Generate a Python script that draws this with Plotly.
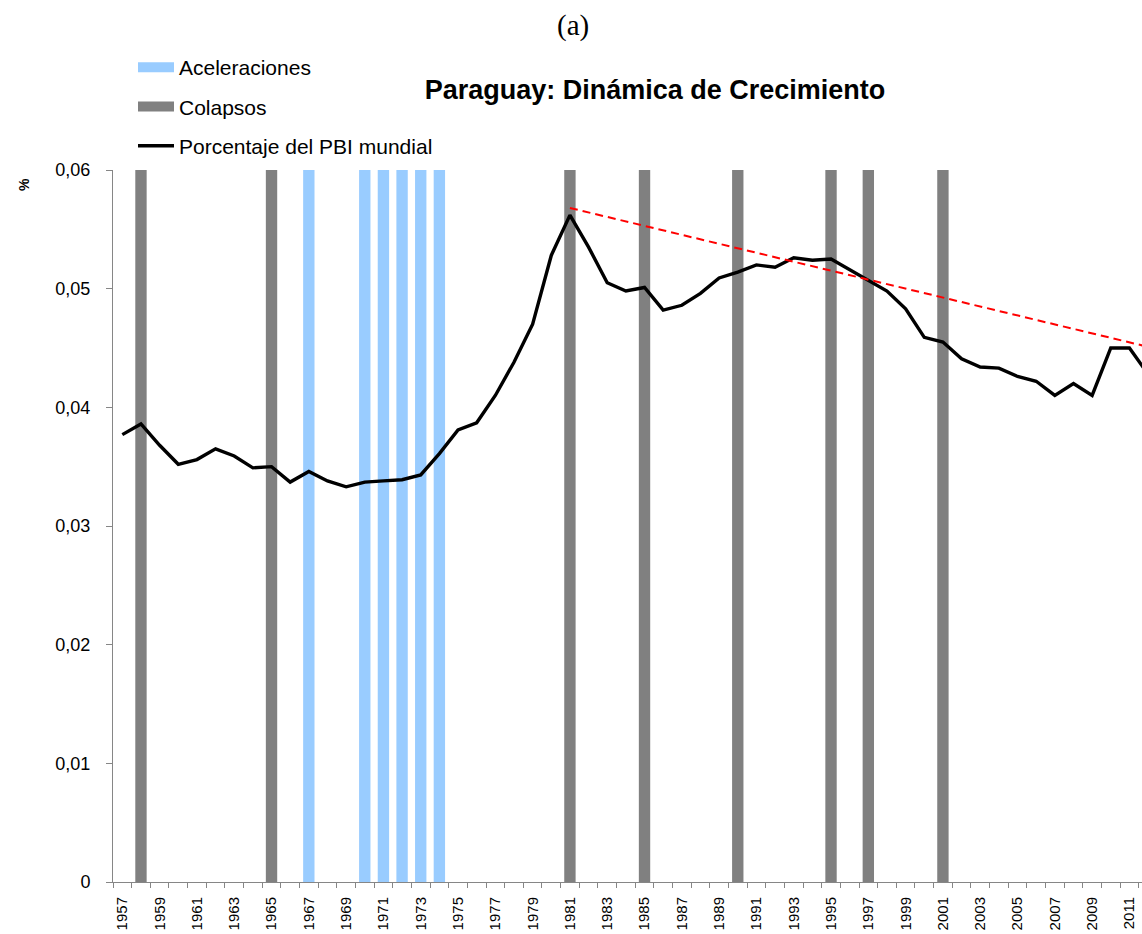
import plotly.graph_objects as go

# ---------------- data ----------------
years = list(range(1957, 2013))
share_world_gdp = [
    0.0377, 0.0386, 0.0368, 0.0352, 0.0356, 0.0365, 0.0359, 0.0349, 0.0350, 0.0337,
    0.0346, 0.0338, 0.0333, 0.0337, 0.0338, 0.0339, 0.0343, 0.0361, 0.0381, 0.0387,
    0.0410, 0.0438, 0.0470, 0.0528, 0.0562, 0.0535, 0.0505, 0.0498, 0.0501, 0.0482,
    0.0486, 0.0496, 0.0509, 0.0514, 0.0520, 0.0518, 0.0526, 0.0524, 0.0525, 0.0516,
    0.0507, 0.0498, 0.0483, 0.0459, 0.0455, 0.0441, 0.0434, 0.0433, 0.0426, 0.0422,
    0.0410, 0.0420, 0.0410, 0.0450, 0.0450, 0.0428,
]
accel_years = [1967, 1970, 1971, 1972, 1973, 1974]
accel_values = [0.06, 0.06, 0.06, 0.06, 0.06, 0.06]
collapse_years = [1958, 1965, 1981, 1985, 1990, 1995, 1997, 2001]
collapse_values = [0.06, 0.06, 0.06, 0.06, 0.06, 0.06, 0.06, 0.06]
trend_years = [1981, 2012]
trend_values = [0.0568, 0.0451]
label_years = [y for y in years if y % 2 == 1]
y_ticks = [0, 0.01, 0.02, 0.03, 0.04, 0.05, 0.06]

ACCEL_COLOR = "#99CCFF"
COLLAPSE_COLOR = "#808080"

W, H = 1142, 934
L, R, T, B = 113, 0, 170, 52
plot_w = W - L - R
plot_h = H - T - B
cat_px = 18.65

x_range = [years[0] - 0.5, years[0] - 0.5 + plot_w / cat_px]
boundaries = [y - 0.5 for y in years] + [years[-1] + 0.5]

def px_x(px):
    return (px - L) / plot_w

def px_y(py):
    return (H - B - py) / plot_h

fig = go.Figure()
fig.add_trace(go.Bar(x=accel_years, y=accel_values, name="Aceleraciones",
                     marker=dict(color=ACCEL_COLOR, line=dict(width=0)),
                     showlegend=False, hoverinfo="skip"))
fig.add_trace(go.Bar(x=collapse_years, y=collapse_values, name="Colapsos",
                     marker=dict(color=COLLAPSE_COLOR, line=dict(width=0)),
                     showlegend=False, hoverinfo="skip"))
fig.add_trace(go.Scatter(x=years, y=share_world_gdp, mode="lines",
                         name="Porcentaje del PBI mundial",
                         line=dict(color="black", width=3.4),
                         showlegend=False))
fig.add_trace(go.Scatter(x=trend_years, y=trend_values, mode="lines",
                         line=dict(color="#FF0000", width=2, dash="8px,5px"),
                         showlegend=False, hoverinfo="skip"))

# legend entries (wide boxes like the reference)
fig.add_trace(go.Scatter(x=[None], y=[None], mode="lines", name="Aceleraciones",
                         line=dict(color=ACCEL_COLOR, width=16), legendgroup="a"))
fig.add_trace(go.Scatter(x=[None], y=[None], mode="lines", name="Colapsos",
                         line=dict(color=COLLAPSE_COLOR, width=16), legendgroup="b"))
fig.add_trace(go.Scatter(x=[None], y=[None], mode="lines",
                         name="Porcentaje del PBI mundial",
                         line=dict(color="black", width=3.4), legendgroup="c"))

fig.update_layout(
    width=W, height=H,
    margin=dict(l=L, r=R, t=T, b=B, pad=0),
    paper_bgcolor="white", plot_bgcolor="white",
    separators=",.",
    barmode="group", bargap=0.39, bargroupgap=0,
    font=dict(family="Liberation Sans, Arial, sans-serif", color="black"),
    title=dict(text="<b>Paraguay: Dinámica de Crecimiento</b>",
               font=dict(size=27, family="Liberation Sans, Arial, sans-serif"),
               x=px_x(655), xref="paper", xanchor="center",
               y=1 - 90 / H, yref="container", yanchor="middle"),
    showlegend=True,
    legend=dict(x=px_x(133), y=px_y(47), xanchor="left", yanchor="top",
                font=dict(size=21), traceorder="grouped", tracegroupgap=9,
                bgcolor="rgba(0,0,0,0)", borderwidth=0, itemwidth=36),
    xaxis=dict(range=x_range, showgrid=False, zeroline=False,
               showline=True, linecolor="#868686", linewidth=1,
               tickmode="array", tickvals=label_years,
               ticktext=[str(y) for y in label_years],
               ticks="", tickangle=-90, tickfont=dict(size=15),
               ticklabelstandoff=8,
               minor=dict(tickmode="array", tickvals=boundaries,
                          ticks="outside", ticklen=5, tickcolor="#868686",
                          tickwidth=1, showgrid=False)),
    yaxis=dict(range=[0, 0.06], showgrid=False, zeroline=False,
               showline=True, linecolor="#868686", linewidth=1,
               tickmode="array", tickvals=y_ticks,
               ticks="outside", ticklen=6, tickcolor="#868686",
               tickfont=dict(size=18), ticklabelstandoff=12),
    annotations=[
        dict(text="(a)", xref="paper", yref="paper", x=px_x(573), y=px_y(26),
             showarrow=False, xanchor="center", yanchor="middle",
             font=dict(family="Liberation Serif, Times New Roman, serif", size=29)),
        dict(text="<b>%</b>", xref="paper", yref="paper", x=px_x(24), y=px_y(185),
             showarrow=False, textangle=-90, xanchor="center", yanchor="middle",
             font=dict(size=14)),
    ],
)

fig.write_html("out.html", config={"displayModeBar": False},
               post_script="document.body.style.margin='0';document.body.style.overflow='hidden';")
